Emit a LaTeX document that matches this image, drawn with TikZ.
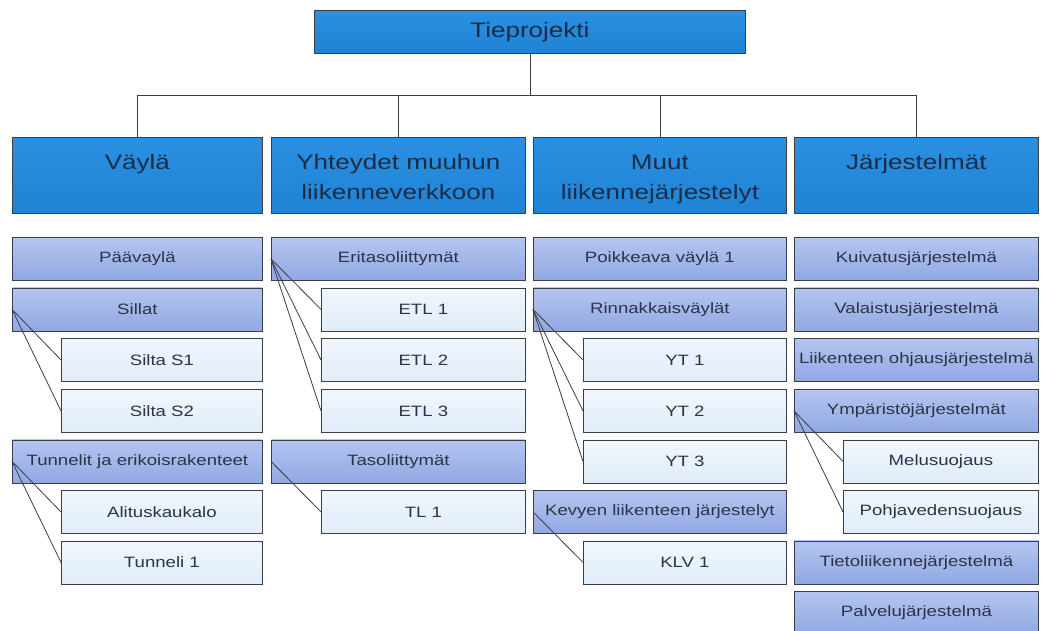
\documentclass[tikz,border=0pt]{standalone}
\usepackage{fontspec}
\setmainfont{Liberation Sans}[FakeStretch=1.24]
\definecolor{linegray}{HTML}{3A3D44}
\definecolor{headtop}{HTML}{2B90E2}
\definecolor{headbot}{HTML}{1E83D5}
\definecolor{grptop}{HTML}{B3C5F0}
\definecolor{grpbot}{HTML}{92A8E3}
\definecolor{itemtop}{HTML}{F0F7FD}
\definecolor{itembot}{HTML}{E0ECF8}
\definecolor{txt}{HTML}{2B3446}
\definecolor{headtxt}{HTML}{1C2C44}
\begin{document}
\begin{tikzpicture}[x=1pt,y=-1pt,
  box/.style={draw=linegray, line width=0.8pt, anchor=north west, inner sep=0pt,
    minimum height=43pt, text=txt, font=\fontsize{15}{17}\selectfont},
  headbox/.style={box, top color=headtop, bottom color=headbot, minimum height=76pt},
  toptitle/.style={box, top color=headtop, bottom color=headbot, text=headtxt,
    font=\fontsize{21}{24}\selectfont},
  headtext/.style={anchor=base, inner sep=0pt, text=headtxt, font=\fontsize{21}{24}\selectfont},
  grp/.style={box, top color=grptop, bottom color=grpbot},
  item/.style={box, top color=itemtop, bottom color=itembot},
  link/.style={draw=linegray, line width=0.8pt}]
\useasboundingbox (0,0) rectangle (1041,631);

% root
\node[toptitle, minimum width=431pt] (root) at (314,10) {Tieprojekti};
\coordinate (bus) at (0,95);

% main branches
\node[headbox, minimum width=250pt] (hv) at (12,137) {};
\node[headbox, minimum width=254pt] (hy) at (271,137) {};
\node[headbox, minimum width=253pt] (hm) at (533,137) {};
\node[headbox, minimum width=244pt] (hj) at (794,137) {};
\node[headtext] (hvt) at (hv.north |- 0,170) {Väylä};
\node[headtext] (hyt1) at (hy.north |- 0,170) {Yhteydet muuhun};
\node[headtext] (hyt2) at (hy.north |- 0,200) {liikenneverkkoon};
\node[headtext] (hmt1) at (hm.north |- 0,170) {Muut};
\node[headtext] (hmt2) at (hm.north |- 0,200) {liikennejärjestelyt};
\node[headtext] (hjt) at (hj.north |- 0,170) {Järjestelmät};

\draw[link] (root.south) -- (root.south |- bus);
\draw[link] (hv.north |- bus) -- (hj.north |- bus);
\foreach \h in {hv,hy,hm,hj}
  \draw[link] (\h.north |- bus) -- (\h.north);

% Väylä
\node[grp,  minimum width=250pt] (v1)  at (12,237)   {Päävaylä};
\node[grp,  minimum width=250pt] (v2)  at (12,287.5) {Sillat};
\node[item, minimum width=201pt] (v21) at (61,338)   {Silta S1};
\node[item, minimum width=201pt] (v22) at (61,389)   {Silta S2};
\node[grp,  minimum width=250pt] (v3)  at (12,439.5) {Tunnelit ja erikoisrakenteet};
\node[item, minimum width=201pt] (v31) at (61,490)   {Alituskaukalo};
\node[item, minimum width=201pt] (v32) at (61,540.5) {Tunneli 1};

% Yhteydet muuhun liikenneverkkoon
\node[grp,  minimum width=254pt] (y1)  at (271,237)   {Eritasoliittymät};
\node[item, minimum width=204pt] (y11) at (321,287.5) {ETL 1};
\node[item, minimum width=204pt] (y12) at (321,338)   {ETL 2};
\node[item, minimum width=204pt] (y13) at (321,389)   {ETL 3};
\node[grp,  minimum width=254pt] (y2)  at (271,439.5) {Tasoliittymät};
\node[item, minimum width=204pt] (y21) at (321,490)   {TL 1};

% Muut liikennejärjestelyt
\node[grp,  minimum width=253pt] (m1)  at (533,237)   {Poikkeava väylä 1};
\node[grp,  minimum width=253pt] (m2)  at (533,287.5) {Rinnakkaisväylät};
\node[item, minimum width=203pt] (m21) at (583,338)   {YT 1};
\node[item, minimum width=203pt] (m22) at (583,389)   {YT 2};
\node[item, minimum width=203pt] (m23) at (583,439.5) {YT 3};
\node[grp,  minimum width=253pt] (m3)  at (533,490)   {Kevyen liikenteen järjestelyt};
\node[item, minimum width=203pt] (m31) at (583,540.5) {KLV 1};

% Järjestelmät
\node[grp,  minimum width=244pt] (j1)  at (794,237)   {Kuivatusjärjestelmä};
\node[grp,  minimum width=244pt] (j2)  at (794,287.5) {Valaistusjärjestelmä};
\node[grp,  minimum width=244pt] (j3)  at (794,338)   {Liikenteen ohjausjärjestelmä};
\node[grp,  minimum width=244pt] (j4)  at (794,389)   {Ympäristöjärjestelmät};
\node[item, minimum width=195pt] (j41) at (843,439.5) {Melusuojaus};
\node[item, minimum width=195pt] (j42) at (843,490)   {Pohjavedensuojaus};
\node[grp,  minimum width=244pt] (j5)  at (794,540.5) {Tietoliikennejärjestelmä};
\node[grp,  minimum width=244pt] (j6)  at (794,591)   {Palvelujärjestelmä};

% group-to-item links
\foreach \p/\c in {v2/v21, v2/v22, v3/v31, v3/v32,
                   y1/y11, y1/y12, y1/y13, y2/y21,
                   m2/m21, m2/m22, m2/m23, m3/m31,
                   j4/j41, j4/j42}
  \draw[link] (\p.west) -- (\c.west);
\end{tikzpicture}
\end{document}
